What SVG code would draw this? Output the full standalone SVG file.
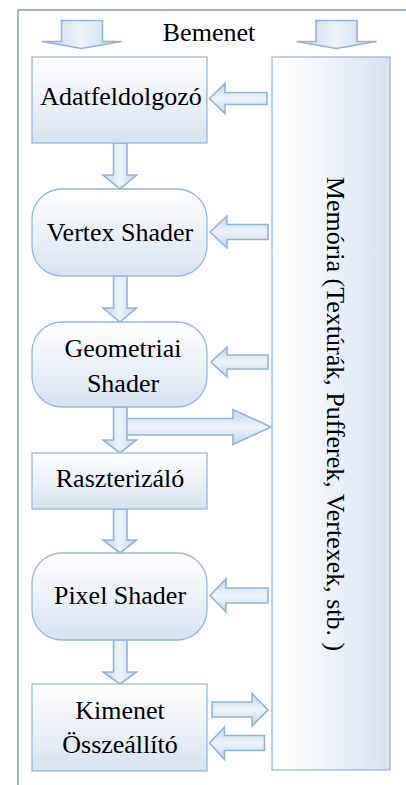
<svg xmlns="http://www.w3.org/2000/svg" width="406" height="785" viewBox="0 0 406 785">
<defs>
<linearGradient id="gNode" x1="0" y1="0" x2="0" y2="1">
<stop offset="0" stop-color="#ffffff"/>
<stop offset="1" stop-color="#d7e2f0"/>
</linearGradient>
<linearGradient id="gMem" x1="0" y1="0" x2="1" y2="0">
<stop offset="0" stop-color="#ffffff"/>
<stop offset="0.3" stop-color="#f7f9fc"/>
<stop offset="1" stop-color="#d6e1ef"/>
</linearGradient>
<linearGradient id="gArrH" x1="0" y1="0" x2="0" y2="1">
<stop offset="0" stop-color="#c3d4ea"/>
<stop offset="0.5" stop-color="#eef3f9"/>
<stop offset="1" stop-color="#c3d4ea"/>
</linearGradient>
<linearGradient id="gArrV" x1="0" y1="0" x2="1" y2="0">
<stop offset="0" stop-color="#c3d4ea"/>
<stop offset="0.5" stop-color="#eef3f9"/>
<stop offset="1" stop-color="#c3d4ea"/>
</linearGradient>
<style>
.box{fill:url(#gNode);stroke:#9ab7da;stroke-width:1.3}
.mem{fill:url(#gMem);stroke:#9ab7da;stroke-width:1.3}
.ah{fill:url(#gArrH);stroke:#95b3d7;stroke-width:1.6;stroke-linejoin:miter}
.av{fill:url(#gArrV);stroke:#95b3d7;stroke-width:1.6;stroke-linejoin:miter}
.t{font-family:"Liberation Serif","Times New Roman",serif;font-size:26px;fill:#000;text-anchor:middle}
</style>
</defs>
<rect x="18" y="10" width="400" height="790" fill="none" stroke="#9ab7da" stroke-width="2"/>
<text class="t" x="209" y="41">Bemenet</text>
<g id="connectors">
<path class="av" d="M61.5,20.5 H102.5 V41.5 H121.5 L81.5,48.5 L41.5,41.5 H61.5 Z"/>
<path class="av" d="M316,20.5 H357 V41.5 H376.5 L336.5,48.5 L296.5,41.5 H316 Z"/>
<path class="av" d="M113.5,143 H127 V175 H136.5 L120,189 L103,175 H113.5 Z"/>
<path class="av" d="M113.5,276 H127 V308 H136.5 L120,322 L103,308 H113.5 Z"/>
<path class="ah" d="M120,418.5 H233 V409.5 L271,427 L233,444.5 V435 H120 Z"/>
<path class="av" d="M113.5,407 H127 V440 H136.5 L120,453 L103,440 H113.5 Z"/>
<path class="av" d="M113.5,509 H127 V540 H136.5 L120,553 L103,540 H113.5 Z"/>
<path class="av" d="M113.5,640 H127 V672 H136.5 L120,684 L103,672 H113.5 Z"/>
<path class="ah" d="M267,92.5 H225 V83.5 L209.5,98.5 L225,113.5 V104.5 H267 Z"/>
<path class="ah" d="M268,224.5 H227 V216 L210,232 L227,248 V239.5 H268 Z"/>
<path class="ah" d="M268,355 H227 V347 L211,362 L227,377 V369 H268 Z"/>
<path class="ah" d="M268,588 H226 V579 L210,595.5 L226,612 V603 H268 Z"/>
<path class="ah" d="M212,702 H252 V693.5 L268,710 L252,726 V717 H212 Z"/>
<path class="ah" d="M264.5,735.5 H224.5 V727 L209.5,743 L224.5,759.5 V750.5 H264.5 Z"/>
</g>
<g id="memoria">
<rect class="mem" x="272" y="57" width="118" height="713"/>
<text class="t" transform="translate(327,414) rotate(90)" x="0" y="0">Memória (Textúrák, Pufferek, Vertexek, stb. )</text>
</g>
<g id="adatfeldolgozo">
<rect class="box" x="32" y="57" width="175" height="86"/>
<text class="t" x="121" y="105">Adatfeldolgozó</text>
</g>
<g id="vertex">
<rect class="box" x="32" y="189" width="175" height="87" rx="30" ry="30"/>
<text class="t" x="120" y="241">Vertex Shader</text>
</g>
<g id="geometriai">
<rect class="box" x="32" y="322" width="175" height="85" rx="30" ry="30"/>
<text class="t" x="123" y="357">Geometriai</text>
<text class="t" x="123" y="392">Shader</text>
</g>
<g id="raszterizalo">
<rect class="box" x="32" y="453" width="175" height="56"/>
<text class="t" x="120" y="487">Raszterizáló</text>
</g>
<g id="pixel">
<rect class="box" x="32" y="553" width="175" height="87" rx="30" ry="30"/>
<text class="t" x="120" y="604">Pixel Shader</text>
</g>
<g id="kimenet">
<rect class="box" x="32" y="684" width="175" height="87"/>
<text class="t" x="120" y="719">Kimenet</text>
<text class="t" x="120" y="753">Összeállító</text>
</g>
</svg>
